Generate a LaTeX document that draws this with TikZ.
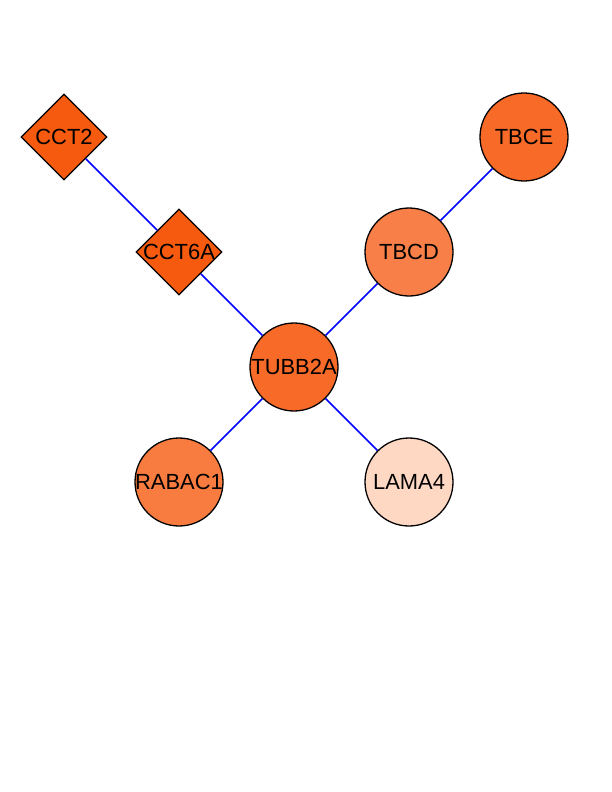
\documentclass[tikz,border=0pt]{standalone}
\usepackage{fontspec}
\setmainfont{Liberation Sans}
\usetikzlibrary{shapes.geometric}
\usetikzlibrary{positioning}
\definecolor{cctcol}{HTML}{F55A0F}
\definecolor{tubcol}{HTML}{F86A28}
\definecolor{tbdcol}{HTML}{F88048}
\definecolor{rabcol}{HTML}{F87C40}
\definecolor{lamcol}{HTML}{FFD8C4}
\newcommand{\glab}[1]{\makebox[0pt]{#1}}

\begin{document}
\begin{tikzpicture}[x=1bp,y=-1bp,thick,
    main node/.style={circle,draw,line width=1.3pt,minimum size=88bp,inner sep=0pt,font=\fontsize{22}{26}\selectfont},
    dia node/.style={diamond,draw,line width=1.3pt,minimum size=86bp,inner sep=0pt,font=\fontsize{22}{26}\selectfont}]
   \useasboundingbox (0,0) rectangle (612,792);
   \begin{scope}
      \node[dia node,fill=cctcol] (cct2) at (64,137) {\glab{CCT2}};
      \node[dia node,fill=cctcol] (cct6a) at (179,252) {\glab{CCT6A}};
      \node[main node,fill=tubcol] (tubb2a) at (294,367) {\glab{TUBB2A}};
      \node[main node,fill=tbdcol] (tbcd) at (409,252) {\glab{TBCD}};
      \node[main node,fill=tubcol] (tbce) at (524,137) {\glab{TBCE}};
      \node[main node,fill=rabcol] (rabac1) at (179,482) {\glab{RABAC1}};
      \node[main node,fill=lamcol] (lama4) at (409,482) {\glab{LAMA4}};
    \end{scope}
    \begin{scope}[-,line width=1.6pt,color=blue]
       \path (cct2) edge (cct6a);
       \path (cct6a) edge (tubb2a);
       \path (tubb2a) edge (tbcd);
       \path (tbcd) edge (tbce);
       \path (tubb2a) edge (rabac1);
       \path (tubb2a) edge (lama4);
    \end{scope}
  \end{tikzpicture}
\end{document}
